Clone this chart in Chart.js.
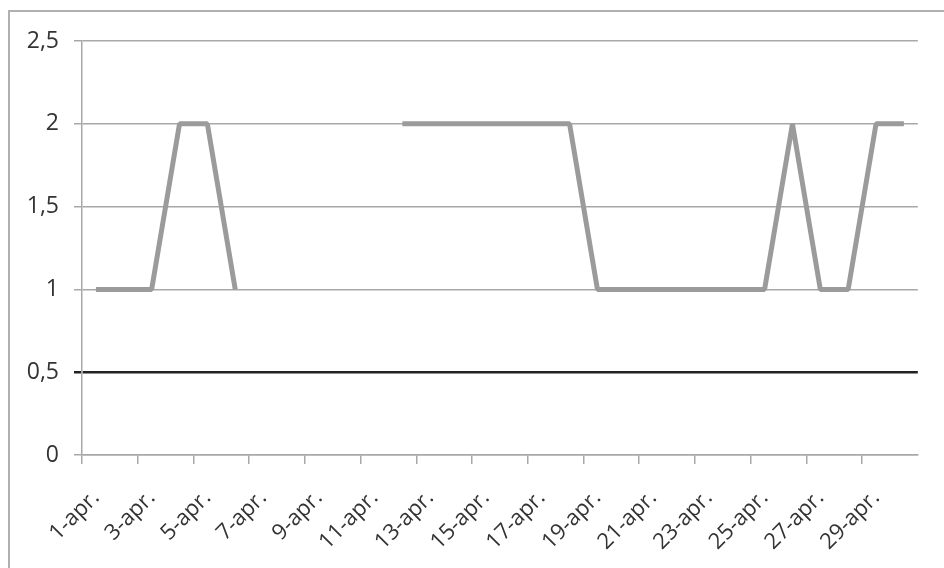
<!DOCTYPE html>
<html>
<head>
<meta charset="utf-8">
<script src="https://cdn.jsdelivr.net/npm/chart.js@4"></script>
<style>
  html, body { margin: 0; padding: 0; background: #fff; overflow: hidden; }
  #wrap { position: relative; width: 944px; height: 568px; overflow: hidden; }
  #frame { position: absolute; left: 8px; top: 10px; width: 1100px; height: 800px; border: 2px solid #b0b0b0; box-sizing: border-box; }
  canvas { position: absolute; left: 0; top: 0; }
</style>
</head>
<body>
<div id="wrap">
  <div id="frame"></div>
  <canvas id="chart" width="944" height="568"></canvas>
</div>
<script>
// days of April
const days = [];
for (let d = 1; d <= 30; d++) days.push(d + "-apr.");

// values (null = no value)
const values = [1, 1, 1, 2, 2, 1, null, null, null, null, null,
  2, 2, 2, 2, 2, 2, 2, 1, 1, 1, 1, 1, 1, 1, 2, 1, 1, 2, 2];

const yTicks = [0, 0.5, 1, 1.5, 2, 2.5];

const gridGray = "#a8a8a8";
const textColor = "#333";

new Chart(document.getElementById("chart"), {
  type: "line",
  data: {
    labels: days,
    datasets: [{
      data: values,
      borderColor: "#9b9b9b",
      borderWidth: 5,
      pointRadius: 0,
      tension: 0,
      borderJoinStyle: "bevel",
      spanGaps: false,
    }],
  },
  options: {
    responsive: false,
    animation: false,
    layout: { padding: { top: 41, right: 26, left: 0, bottom: 0 } },
    plugins: { legend: { display: false }, tooltip: { enabled: false } },
    scales: {
      x: {
        offset: true,
        grid: {
          offset: true,
          drawOnChartArea: false,
          drawTicks: true,
          tickLength: 9,
          color: (c) => (c.index % 2 === 0 ? gridGray : "transparent"),
          lineWidth: 1.5,
        },
        border: { display: true, color: gridGray, width: 1.5 },
        ticks: {
          autoSkip: false,
          minRotation: 45,
          maxRotation: 45,
          padding: 21,
          color: textColor,
          font: { family: "Open Sans", size: 22 },
          callback: (v, i) => (i % 2 === 0 ? days[i] : ""),
        },
        afterFit: (scale) => { scale.height = 113; },
      },
      y: {
        min: 0,
        max: 2.5,
        afterBuildTicks: (scale) => { scale.ticks = yTicks.map((v) => ({ value: v })); },
        grid: {
          color: (c) => (c.tick && c.tick.value === 0.5 ? "#222" : gridGray),
          lineWidth: (c) => (c.tick && c.tick.value === 0.5 ? 2.5 : 1.5),
          tickLength: 8,
        },
        border: { display: true, color: gridGray, width: 1.5 },
        ticks: {
          padding: 15,
          color: textColor,
          font: { family: "Open Sans", size: 23 },
          callback: (v) => String(v).replace(".", ","),
        },
        afterFit: (scale) => { scale.width = 82; },
      },
    },
  },
});
</script>
</body>
</html>
